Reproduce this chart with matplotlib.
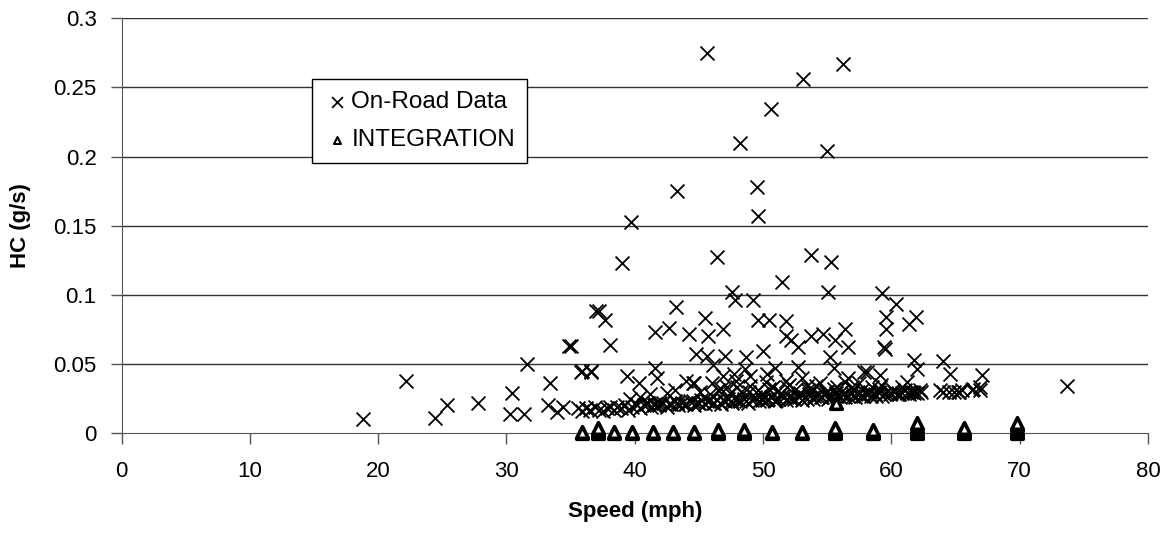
import matplotlib
matplotlib.use('Agg')
import matplotlib.pyplot as plt

plt.rcParams['font.family'] = ['Liberation Sans', 'DejaVu Sans']

# --- On-Road Data: scattered points ---
road_speed = [
    18.8, 22.2, 24.4, 25.4, 27.8, 30.4, 30.3, 31.4, 31.6, 33.4, 34.9, 33.2, 33.9, 34.4,
    35.8, 36.6, 37.0, 37.2, 37.7, 39.0, 39.7, 35.0, 38.1, 41.6, 42.7, 43.2, 43.3, 44.2,
    45.5, 45.6, 45.7, 44.8, 45.6, 35.9, 36.6, 39.4, 40.3, 41.6, 41.7, 44.6, 46.1, 46.4,
    47.6, 47.8, 48.2, 49.2, 49.5, 49.6, 49.6, 50.5, 50.6, 51.5, 51.8, 53.1, 53.7, 55.0,
    55.1, 55.3, 56.2, 46.9, 51.8, 52.2, 53.7, 54.7, 56.4, 55.6, 56.6, 52.7, 50.0, 48.7,
    47.0, 52.7, 50.9, 55.5, 55.2, 57.9, 56.6, 53.4, 48.6, 47.7, 46.9, 49.0, 50.3, 51.8,
    59.3, 60.4, 59.6, 59.6, 61.9, 61.4, 59.4, 59.5, 61.8, 62.0, 64.0, 64.6, 67.1, 66.9,
    66.3, 64.0, 58.1, 59.1, 59.2, 61.2, 73.7,
    44.5, 44.0, 43.1, 42.5, 41.2, 40.4, 39.6,
    46.0, 46.5, 47.2, 47.9, 48.3, 49.0, 49.6, 50.2, 50.8, 51.4, 52.0, 52.5, 53.0, 53.8,
    54.4, 55.0, 55.8, 56.4, 57.0, 58.5, 57.5,
    45.1, 45.9, 46.7, 47.4, 48.0, 48.9, 49.9, 50.5, 51.1, 51.9, 52.9, 53.5, 54.1, 54.9,
    55.5, 56.1, 56.9, 57.7, 58.3, 59.0, 60.1, 60.8, 61.5, 62.2, 63.8, 65.3,
]
road_hc = [
    0.010, 0.038, 0.011, 0.020, 0.022, 0.029, 0.014, 0.014, 0.050, 0.036, 0.063, 0.020, 0.015, 0.019,
    0.044, 0.044, 0.088, 0.088, 0.082, 0.123, 0.153, 0.063, 0.064, 0.073, 0.076, 0.091, 0.175, 0.072,
    0.083, 0.275, 0.070, 0.057, 0.056, 0.045, 0.045, 0.041, 0.036, 0.047, 0.040, 0.036, 0.049, 0.127,
    0.102, 0.096, 0.210, 0.096, 0.178, 0.157, 0.082, 0.082, 0.234, 0.109, 0.081, 0.256, 0.129, 0.204,
    0.102, 0.124, 0.267, 0.075, 0.070, 0.067, 0.070, 0.072, 0.075, 0.067, 0.062, 0.062, 0.059, 0.055,
    0.056, 0.048, 0.047, 0.047, 0.055, 0.044, 0.040, 0.034, 0.046, 0.043, 0.041, 0.041, 0.043, 0.038,
    0.101, 0.093, 0.084, 0.075, 0.084, 0.079, 0.062, 0.061, 0.053, 0.046, 0.052, 0.043, 0.042, 0.031,
    0.031, 0.030, 0.044, 0.042, 0.035, 0.037, 0.034,
    0.036, 0.038, 0.031, 0.029, 0.028, 0.026, 0.025,
    0.036, 0.031, 0.033, 0.038, 0.030, 0.034, 0.031, 0.037, 0.033, 0.029, 0.035, 0.031, 0.040, 0.032,
    0.036, 0.030, 0.033, 0.037, 0.031, 0.033, 0.036,
    0.030, 0.028, 0.032, 0.029, 0.033, 0.030, 0.028, 0.032, 0.030, 0.033, 0.029, 0.031, 0.034, 0.030,
    0.032, 0.030, 0.033, 0.031, 0.030, 0.032, 0.031, 0.033, 0.030, 0.031, 0.031, 0.030,
]

# --- On-Road Data: dense band near the bottom ---
band_speed = [
    35.6, 35.9, 36.2, 36.5, 36.9, 37.2, 37.5, 37.8, 38.1, 38.4, 38.6, 38.9, 39.2, 39.5,
    39.8, 40.1, 40.4, 40.7, 41.0, 41.3, 41.6, 41.9, 42.2, 42.5, 42.8, 43.1, 43.4, 43.7,
    44.0, 44.3, 44.6, 44.9, 45.2, 45.5, 45.8, 46.1, 46.4, 46.7, 47.0, 47.3, 47.6, 47.9,
    48.2, 48.5, 48.8, 49.1, 49.4, 49.7, 50.0, 50.3, 50.6, 50.9, 51.2, 51.5, 51.8, 52.1,
    52.4, 52.7, 53.0, 53.3, 53.6, 53.9, 54.2, 54.5, 54.8, 55.1, 55.4, 55.7, 56.0, 56.3,
    56.6, 56.9, 57.2, 57.5, 57.8, 58.1, 58.4, 58.7, 59.0, 59.3, 59.6, 59.9, 60.2, 60.5,
    60.8, 61.1, 61.4, 61.7, 62.0, 62.3, 64.5, 64.9, 65.2, 65.5, 66.4, 66.9,
    40.2, 40.9, 41.5, 42.0, 42.7, 43.3, 43.9, 44.5, 45.0, 45.6, 46.2, 46.9, 47.5, 48.1,
    48.7, 49.3, 49.9, 50.4, 51.0, 51.6, 52.2, 52.8, 53.4, 54.0, 54.6, 55.2, 55.8, 56.4,
    57.0, 57.6, 58.2, 58.8, 59.4, 60.0, 60.6, 61.2, 61.8,
]
band_hc = [
    0.018, 0.016, 0.018, 0.017, 0.019, 0.017, 0.016, 0.018, 0.019, 0.017, 0.019, 0.018, 0.020, 0.017,
    0.019, 0.021, 0.018, 0.020, 0.022, 0.019, 0.021, 0.020, 0.022, 0.019, 0.021, 0.023, 0.020, 0.022,
    0.021, 0.023, 0.020, 0.022, 0.024, 0.021, 0.023, 0.022, 0.024, 0.021, 0.023, 0.025, 0.022, 0.024,
    0.023, 0.025, 0.022, 0.024, 0.026, 0.023, 0.025, 0.024, 0.026, 0.023, 0.025, 0.027, 0.024, 0.026,
    0.025, 0.027, 0.024, 0.026, 0.028, 0.025, 0.027, 0.026, 0.028, 0.025, 0.027, 0.029, 0.026, 0.028,
    0.027, 0.029, 0.026, 0.028, 0.027, 0.029, 0.027, 0.028, 0.030, 0.027, 0.029, 0.028, 0.030, 0.028,
    0.029, 0.031, 0.028, 0.030, 0.029, 0.030, 0.030, 0.030, 0.030, 0.031, 0.032, 0.033,
    0.020, 0.021, 0.020, 0.022, 0.021, 0.022, 0.021, 0.023, 0.022, 0.023, 0.022, 0.024, 0.023, 0.024,
    0.023, 0.025, 0.024, 0.025, 0.024, 0.026, 0.025, 0.026, 0.025, 0.027, 0.026, 0.026, 0.027, 0.026,
    0.027, 0.027, 0.028, 0.027, 0.028, 0.029, 0.028, 0.029, 0.029,
]

# --- INTEGRATION model points ---
integ_speed = [
    35.9, 35.9, 37.1, 37.1, 37.1, 37.1, 37.1, 38.4, 38.4, 39.8, 39.8, 41.4, 41.4,
    43.0, 43.0, 44.6, 44.6, 46.5, 46.5, 46.5, 48.5, 48.5, 48.5, 50.7, 50.7, 53.0, 53.0,
    55.6, 55.6, 55.6, 55.6, 55.6, 58.6, 58.6, 58.6, 62.0, 62.0, 62.0, 62.0, 62.0, 62.0,
    65.7, 65.7, 65.7, 65.7, 65.7, 69.8, 69.8, 69.8, 69.8, 69.8, 69.8, 69.8, 55.7,
]
integ_hc = [
    0.000, 0.001, 0.000, 0.001, 0.002, 0.003, 0.004, 0.000, 0.001, 0.000, 0.001, 0.000, 0.001,
    0.000, 0.001, 0.000, 0.001, 0.000, 0.001, 0.002, 0.000, 0.001, 0.002, 0.000, 0.001, 0.000, 0.001,
    0.000, 0.001, 0.002, 0.003, 0.004, 0.000, 0.001, 0.002, 0.000, 0.001, 0.002, 0.003, 0.005, 0.007,
    0.000, 0.001, 0.002, 0.003, 0.004, 0.000, 0.001, 0.002, 0.003, 0.004, 0.006, 0.007, 0.022,
]

x_ticks = [0, 10, 20, 30, 40, 50, 60, 70, 80]
y_ticks = [0, 0.05, 0.1, 0.15, 0.2, 0.25, 0.3]

# --- Layout ---
fig = plt.figure(figsize=(11.69, 5.36), dpi=100, facecolor='white')
ax = fig.add_axes([0.104, 0.192, 0.878, 0.774])

for y in y_ticks[1:]:
    ax.axhline(y, color='#333333', linewidth=1.0, zorder=1)

ax.scatter(road_speed + band_speed, road_hc + band_hc, marker='x', s=100,
           color='black', linewidths=1.3, zorder=3, label='On-Road Data')
ax.scatter(integ_speed, integ_hc, marker='^', s=70, facecolors='white',
           edgecolors='black', linewidths=2.6, zorder=4, clip_on=False,
           label='INTEGRATION')

ax.set_xlim(0, 80)
ax.set_ylim(0, 0.3)
ax.set_xticks(x_ticks)
ax.set_yticks(y_ticks)
ax.set_yticklabels(['%g' % v for v in y_ticks])
ax.tick_params(axis='both', labelsize=16, direction='out', length=8, width=1,
               color='#555555')
ax.tick_params(axis='x', pad=12)
ax.tick_params(axis='y', pad=10)
for side in ['top', 'right']:
    ax.spines[side].set_visible(False)
for side in ['left', 'bottom']:
    ax.spines[side].set_color('#555555')
ax.set_xlabel('Speed (mph)', fontsize=16, fontweight='bold', labelpad=14)
ax.set_ylabel('HC (g/s)', fontsize=16, fontweight='bold', labelpad=16)

leg = ax.legend(loc='upper left', bbox_to_anchor=(0.186, 0.853), borderaxespad=0,
                fancybox=False, edgecolor='black', framealpha=1, fontsize=17.5,
                handletextpad=0.1, handlelength=1.0, borderpad=0.5, labelspacing=0.65,
                scatterpoints=1)
leg.get_frame().set_linewidth(1.0)
handles = leg.legend_handles
handles[0].set_sizes([60])
handles[1].set_sizes([25])
handles[1].set_linewidths(1.5)

fig.savefig('out.png', dpi=100, facecolor='white')
